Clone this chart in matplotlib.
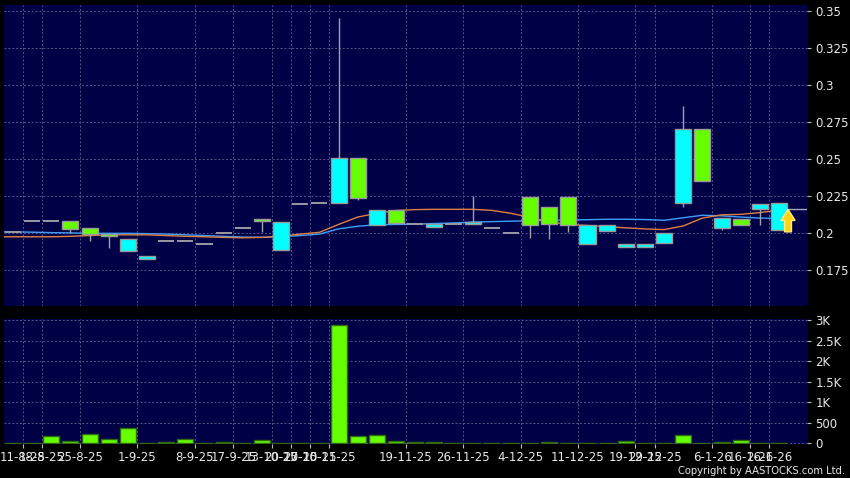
import numpy as np
import matplotlib
matplotlib.use("Agg")
import matplotlib.pyplot as plt
from matplotlib.patches import Rectangle, Polygon

# ---------------- data ----------------
opens = [0.201, 0.208, 0.208, 0.208, 0.2035, 0.1995, 0.188, 0.183, 0.195, 0.195,
         0.1925, 0.200, 0.2035, 0.210, 0.1885, 0.2195, 0.2205, 0.2205, 0.2505, 0.2055,
         0.2155, 0.206, 0.204, 0.206, 0.206, 0.2034, 0.200, 0.2248, 0.2176, 0.2248,
         0.1926, 0.2016, 0.191, 0.191, 0.1932, 0.2203, 0.2703, 0.2034, 0.2097, 0.2164,
         0.2022]
highs = [0.201, 0.208, 0.208, 0.208, 0.2035, 0.1995, 0.196, 0.185, 0.195, 0.195,
         0.1925, 0.200, 0.2035, 0.210, 0.2075, 0.2195, 0.2205, 0.345, 0.2505, 0.216,
         0.2155, 0.206, 0.206, 0.206, 0.225, 0.2034, 0.200, 0.2248, 0.2176, 0.2248,
         0.2054, 0.2058, 0.193, 0.193, 0.200, 0.2856, 0.2703, 0.2101, 0.2097, 0.2198,
         0.2203]
lows = [0.201, 0.208, 0.208, 0.200, 0.195, 0.190, 0.188, 0.183, 0.195, 0.195,
        0.1925, 0.200, 0.2035, 0.201, 0.1885, 0.2195, 0.2205, 0.2205, 0.2225, 0.2055,
        0.206, 0.206, 0.204, 0.206, 0.206, 0.2034, 0.200, 0.197, 0.196, 0.201,
        0.1926, 0.2016, 0.191, 0.191, 0.1932, 0.2176, 0.2353, 0.2022, 0.2054, 0.2056,
        0.2022]
closes = [0.201, 0.208, 0.208, 0.203, 0.1995, 0.198, 0.196, 0.185, 0.195, 0.195,
          0.1925, 0.200, 0.2035, 0.208, 0.2075, 0.2195, 0.2205, 0.2505, 0.2235, 0.216,
          0.2072, 0.206, 0.206, 0.206, 0.2074, 0.2034, 0.200, 0.2054, 0.2063, 0.2054,
          0.2054, 0.2058, 0.193, 0.193, 0.200, 0.2703, 0.2353, 0.2101, 0.2054, 0.2198,
          0.2203]
volumes = [0, 0, 180, 55, 235, 95, 375, 0, 30, 115,
           0, 20, 0, 75, 5, 0, 0, 2880, 180, 210,
           50, 30, 30, 0, 5, 15, 0, 5, 20, 5,
           8, 0, 65, 15, 0, 200, 0, 25, 80, 5,
           5]
# moving averages, first value belongs to the day before the first shown candle
ma_short = [0.1977, 0.1977, 0.1977, 0.1977, 0.1980, 0.1985, 0.1990, 0.1990, 0.1990, 0.1985,
            0.1980, 0.1977, 0.1973, 0.1970, 0.1973, 0.1980, 0.1995, 0.2007, 0.2060, 0.2110,
            0.2135, 0.2154, 0.2160, 0.2162, 0.2162, 0.2162, 0.2155, 0.2135, 0.2108, 0.2078,
            0.2060, 0.2053, 0.2045, 0.2037, 0.2030, 0.2025, 0.2050, 0.2103, 0.2125, 0.2128,
            0.2140, 0.2157]
ma_long = [0.2010, 0.2010, 0.2008, 0.2005, 0.2003, 0.2000, 0.2000, 0.2000, 0.1998, 0.1995,
           0.1990, 0.1985, 0.1980, 0.1975, 0.1973, 0.1978, 0.1985, 0.1995, 0.2030, 0.2048,
           0.2058, 0.2060, 0.2062, 0.2066, 0.2070, 0.2076, 0.2079, 0.2082, 0.2085, 0.2088,
           0.2090, 0.2092, 0.2095, 0.2095, 0.2093, 0.2088, 0.2105, 0.2122, 0.2118, 0.2110,
           0.2103, 0.2101]
ref_level = 0.2162
tick_after = [0, 1, 3, 6, 9, 11, 13, 14, 15, 16, 20, 23, 26, 29, 32, 33, 36, 38, 39]
tick_labels = ["11-8-25", "18-8-25", "25-8-25", "1-9-25", "8-9-25", "17-9-25",
               "13-10-25", "20-10-25", "27-10-25", "10-11-25", "19-11-25", "26-11-25",
               "4-12-25", "11-12-25", "19-12-25", "29-12-25", "6-1-26", "16-1-26", "26-1-26"]
price_ticks = [0.175, 0.2, 0.225, 0.25, 0.275, 0.3, 0.325, 0.35]
price_labels = ["0.175", "0.2", "0.225", "0.25", "0.275", "0.3", "0.325", "0.35"]
vol_ticks = [0, 500, 1000, 1500, 2000, 2500, 3000]
vol_labels = ["0", "500", "1K", "1.5K", "2K", "2.5K", "3K"]

# ---------------- style ----------------
BG = "#000046"
GRID = "#55558a"
CYAN = "#00ffff"
GREEN = "#66ff00"
EDGE = "#9a9a9a"
TXT = "#e8e8e8"

fig = plt.figure(figsize=(8.5, 4.78), dpi=100, facecolor="black")
W, H = 850, 478
ax = fig.add_axes([4 / W, 1 - 306 / H, 803 / W, 301 / H])
axv = fig.add_axes([4 / W, 1 - 444 / H, 803 / W, 125 / H])

n = len(opens)
x = np.arange(n)
bw = 0.84
xlim = (-0.47, 41.46)

for a in (ax, axv):
    a.set_facecolor(BG)
    a.set_xlim(*xlim)
    for s in a.spines.values():
        s.set_visible(False)
    a.yaxis.tick_right()
    a.tick_params(axis="y", colors="#bbbbbb", labelcolor=TXT, labelsize=8.5,
                  length=3, width=0.8, pad=3)
    a.set_xticks(np.array(tick_after) + 0.5)
    a.grid(True, color=GRID, linestyle=(0, (2, 2)), linewidth=0.7)
    a.set_axisbelow(True)

# price panel
ax.set_ylim(0.151, 0.354)
ax.set_yticks(price_ticks)
ax.set_yticklabels(price_labels)
ax.tick_params(axis="x", length=0, labelbottom=False)

xm = np.arange(-1, n)
ax.plot(xm, ma_long, color="#3da0ff", lw=1.0, zorder=2)
ax.plot(xm, ma_short, color="#e08040", lw=1.0, zorder=2)
ax.hlines(ref_level, n - 1 + 0.42, xlim[1], color="#a8a8b8", lw=1.0, zorder=2)

for i in range(n):
    o, h, l, c = opens[i], highs[i], lows[i], closes[i]
    if o == c:
        ax.hlines(c, i - bw / 2, i + bw / 2, color="#9a9aa4", lw=1.4, zorder=3)
        continue
    ax.vlines(i, l, h, color="#a0a0a8", lw=1.0, zorder=3)
    col = CYAN if c > o else GREEN
    ax.add_patch(Rectangle((i - bw / 2, min(o, c)), bw, abs(c - o),
                           facecolor=col, edgecolor=EDGE, lw=1.0, zorder=4))

# yellow arrow next to the last candle
ax_x = n - 1 + 0.47
tip = ref_level
base = lows[-1] - 0.0012
hh = 0.0075
hw = 0.37
sw = 0.18
arrow = Polygon([(ax_x - sw, base), (ax_x + sw, base), (ax_x + sw, tip - hh),
                 (ax_x + hw, tip - hh), (ax_x, tip), (ax_x - hw, tip - hh),
                 (ax_x - sw, tip - hh)], closed=True,
                facecolor="#ffd21a", edgecolor="#fff27a", lw=1.0, zorder=6)
ax.add_patch(arrow)

# volume panel
axv.set_ylim(-17, 3024)
axv.set_yticks(vol_ticks)
axv.set_yticklabels(vol_labels)
axv.bar(x, volumes, width=bw, color=GREEN, edgecolor="#2e6a10", lw=1.0, zorder=3)
axv.set_xticklabels(tick_labels)
axv.tick_params(axis="x", colors="#bbbbbb", labelcolor=TXT, labelsize=8.5,
                length=3, width=0.8, pad=2)

fig.text(845 / W, 1 - 471 / H, "Copyright by AASTOCKS.com Ltd.", color=TXT,
         fontsize=7.2, ha="right", va="center")

fig.savefig("out.png", dpi=100, facecolor="black")
